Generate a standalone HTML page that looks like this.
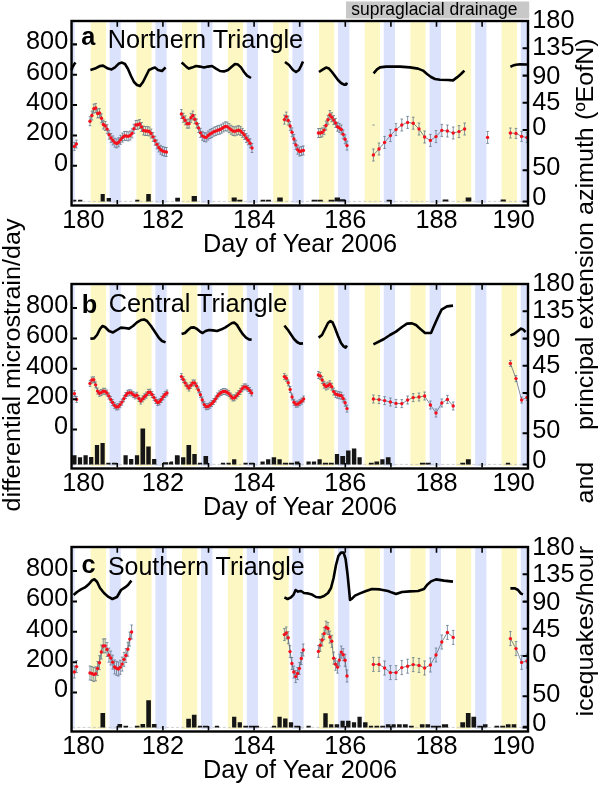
<!DOCTYPE html>
<html lang="en"><head><meta charset="utf-8"><title>Strain figure</title>
<style>html,body{margin:0;padding:0;background:#fff}body{width:600px;height:785px;overflow:hidden}svg{display:block;will-change:transform}</style></head>
<body>
<svg width="600" height="785" viewBox="0 0 600 785" font-family="Liberation Sans, sans-serif" font-size="25.3" fill="#000">
<rect width="600" height="785" fill="#fff"/>
<rect x="346" y="1.5" width="183.2" height="17" fill="#c8c8c8"/>
<text transform="translate(434.4 15) scale(1 1.03)" text-anchor="middle" font-size="17.5" fill="#000">supraglacial drainage</text>
<g>
<clipPath id="cp0"><rect x="72" y="21" width="456" height="182"/></clipPath>
<g clip-path="url(#cp0)">
<rect x="90.7" y="21" width="15.3" height="182" fill="#fcf7c3"/>
<rect x="136.4" y="21" width="15.2" height="182" fill="#fcf7c3"/>
<rect x="182" y="21" width="15.2" height="182" fill="#fcf7c3"/>
<rect x="227.8" y="21" width="15.2" height="182" fill="#fcf7c3"/>
<rect x="273.2" y="21" width="15.4" height="182" fill="#fcf7c3"/>
<rect x="319" y="21" width="15.2" height="182" fill="#fcf7c3"/>
<rect x="364.6" y="21" width="15.4" height="182" fill="#fcf7c3"/>
<rect x="410.4" y="21" width="15.2" height="182" fill="#fcf7c3"/>
<rect x="456" y="21" width="15.2" height="182" fill="#fcf7c3"/>
<rect x="501.6" y="21" width="15.4" height="182" fill="#fcf7c3"/>
<rect x="64" y="21" width="10.7" height="182" fill="#dbe2fc"/>
<rect x="109.6" y="21" width="11.2" height="182" fill="#dbe2fc"/>
<rect x="155.4" y="21" width="11.2" height="182" fill="#dbe2fc"/>
<rect x="201" y="21" width="11.4" height="182" fill="#dbe2fc"/>
<rect x="246.8" y="21" width="11.2" height="182" fill="#dbe2fc"/>
<rect x="292.4" y="21" width="11.2" height="182" fill="#dbe2fc"/>
<rect x="338" y="21" width="11.4" height="182" fill="#dbe2fc"/>
<rect x="383.8" y="21" width="11.2" height="182" fill="#dbe2fc"/>
<rect x="429.6" y="21" width="11.4" height="182" fill="#dbe2fc"/>
<rect x="475.2" y="21" width="11.2" height="182" fill="#dbe2fc"/>
<rect x="520.8" y="21" width="11.2" height="182" fill="#dbe2fc"/>
<line x1="72" x2="528" y1="201.4" y2="201.4" stroke="#c4c4c4" stroke-width="0.8" stroke-dasharray="3.2 2"/>
</g>
<path d="M73.25 201.5H76.35V199.8H73.25ZM78.05 201.5H82.35V199.8H78.05ZM100.65 201.5H104.75V194H100.65ZM106.65 201.5H110.95V198H106.65ZM135.25 201.5H139.35V199.8H135.25ZM146.25 201.5H150.75V194H146.25ZM175.25 201.5H179.95V197.8H175.25ZM191.65 201.5H196.95V196H191.65ZM231.65 201.5H236.75V197.6H231.65ZM237.25 201.5H242.35V199.8H237.25ZM260.65 201.5H265.35V199.8H260.65ZM266.05 201.5H270.95V199.8H266.05ZM277.25 201.5H282.75V197.6H277.25ZM311.65 201.5H317.35V199.8H311.65ZM317.65 201.5H322.75V199.8H317.65ZM328.65 201.5H334.35V199.8H328.65ZM334.65 201.5H339.95V197.6H334.65ZM339.65 201.5H345.35V199.2H339.65ZM386.65 201.5H391.35V199.8H386.65ZM442.65 201.5H448.35V199.6H442.65ZM465.65 201.5H471.35V197.6H465.65ZM500.65 201.5H505.75V199.6H500.65Z" fill="#151515"/>
<g clip-path="url(#cp0)">
<path d="M74.4 142.4V150.4M73.1 142.4H75.7M73.1 150.4H75.7M76.4 140V148M75.1 140H77.7M75.1 148H77.7M90 116.7V125.7M88.7 116.7H91.3M88.7 125.7H91.3M91.91 111V120M90.61 111H93.21M90.61 120H93.21M93.82 104.15V113.15M92.52 104.15H95.12M92.52 113.15H95.12M95.73 103.51V112.51M94.43 103.51H97.03M94.43 112.51H97.03M97.64 108.96V117.96M96.34 108.96H98.94M96.34 117.96H98.94M99.55 108.47V117.47M98.25 108.47H100.85M98.25 117.47H100.85M101.46 113.82V122.82M100.16 113.82H102.76M100.16 122.82H102.76M103.37 120.07V129.07M102.07 120.07H104.67M102.07 129.07H104.67M105.28 121.49V130.49M103.98 121.49H106.58M103.98 130.49H106.58M107.19 124.62V133.62M105.89 124.62H108.49M105.89 133.62H108.49M109.1 130.2V139.2M107.8 130.2H110.4M107.8 139.2H110.4M111.01 133.51V142.51M109.71 133.51H112.31M109.71 142.51H112.31M112.92 135.93V144.93M111.62 135.93H114.22M111.62 144.93H114.22M114.83 138.16V147.16M113.53 138.16H116.13M113.53 147.16H116.13M116.74 138.97V147.97M115.44 138.97H118.04M115.44 147.97H118.04M118.65 137.69V146.69M117.35 137.69H119.95M117.35 146.69H119.95M120.56 135.3V144.3M119.26 135.3H121.86M119.26 144.3H121.86M122.47 133.09V142.09M121.17 133.09H123.77M121.17 142.09H123.77M124.38 131.43V140.43M123.08 131.43H125.68M123.08 140.43H125.68M126.29 131.43V140.43M124.99 131.43H127.59M124.99 140.43H127.59M128.2 131.86V140.86M126.9 131.86H129.5M126.9 140.86H129.5M130.11 131.02V140.02M128.81 131.02H131.41M128.81 140.02H131.41M132.02 128.89V137.89M130.72 128.89H133.32M130.72 137.89H133.32M133.93 124.26V133.26M132.63 124.26H135.23M132.63 133.26H135.23M135.84 120.5V129.5M134.54 120.5H137.14M134.54 129.5H137.14M137.75 120.26V129.25M136.45 120.26H139.05M136.45 129.25H139.05M139.66 119.49V128.49M138.36 119.49H140.96M138.36 128.49H140.96M141.57 122.5V131.5M140.27 122.5H142.87M140.27 131.5H142.87M143.48 126.06V135.06M142.18 126.06H144.78M142.18 135.06H144.78M145.39 126.5V135.5M144.09 126.5H146.69M144.09 135.5H146.69M147.3 126.5V135.5M146 126.5H148.6M146 135.5H148.6M149.21 126.97V135.97M147.91 126.97H150.51M147.91 135.97H150.51M151.12 129.05V138.05M149.82 129.05H152.42M149.82 138.05H152.42M153.03 132.36V141.36M151.73 132.36H154.33M151.73 141.36H154.33M154.94 136.18V145.18M153.64 136.18H156.24M153.64 145.18H156.24M156.85 139.86V148.86M155.55 139.86H158.15M155.55 148.86H158.15M158.76 142.97V151.97M157.46 142.97H160.06M157.46 151.97H160.06M160.67 145.29V154.29M159.37 145.29H161.97M159.37 154.29H161.97M162.58 146.55V155.55M161.28 146.55H163.88M161.28 155.55H163.88M164.49 147.12V156.12M163.19 147.12H165.79M163.19 156.12H165.79M166.4 147.5V156.5M165.1 147.5H167.7M165.1 156.5H167.7M181.4 109.5V118.5M180.1 109.5H182.7M180.1 118.5H182.7M183.31 113.24V122.24M182.01 113.24H184.61M182.01 122.24H184.61M185.22 115.89V124.89M183.92 115.89H186.52M183.92 124.89H186.52M187.12 119.16V128.16M185.82 119.16H188.42M185.82 128.16H188.42M189.03 119.13V128.13M187.73 119.13H190.33M187.73 128.13H190.33M190.94 113.32V122.32M189.64 113.32H192.24M189.64 122.32H192.24M192.85 110.97V119.97M191.55 110.97H194.15M191.55 119.97H194.15M194.76 114.69V123.69M193.46 114.69H196.06M193.46 123.69H196.06M196.66 118.97V127.97M195.36 118.97H197.96M195.36 127.97H197.96M198.57 123.54V132.54M197.27 123.54H199.87M197.27 132.54H199.87M200.48 128.37V137.37M199.18 128.37H201.78M199.18 137.37H201.78M202.39 131.37V140.37M201.09 131.37H203.69M201.09 140.37H203.69M204.3 132.59V141.59M203 132.59H205.6M203 141.59H205.6M206.21 132.89V141.89M204.91 132.89H207.51M204.91 141.89H207.51M208.11 131.01V140.01M206.81 131.01H209.41M206.81 140.01H209.41M210.02 129.49V138.49M208.72 129.49H211.32M208.72 138.49H211.32M211.93 128.54V137.54M210.63 128.54H213.23M210.63 137.54H213.23M213.84 127.21V136.21M212.54 127.21H215.14M212.54 136.21H215.14M215.75 126.58V135.58M214.45 126.58H217.05M214.45 135.58H217.05M217.65 125.67V134.67M216.35 125.67H218.95M216.35 134.67H218.95M219.56 125.19V134.19M218.26 125.19H220.86M218.26 134.19H220.86M221.47 124.22V133.22M220.17 124.22H222.77M220.17 133.22H222.77M223.38 122.94V131.94M222.08 122.94H224.68M222.08 131.94H224.68M225.29 121.86V130.86M223.99 121.86H226.59M223.99 130.86H226.59M227.19 122.1V131.1M225.89 122.1H228.49M225.89 131.1H228.49M229.1 123.6V132.6M227.8 123.6H230.4M227.8 132.6H230.4M231.01 125.21V134.21M229.71 125.21H232.31M229.71 134.21H232.31M232.92 126.45V135.45M231.62 126.45H234.22M231.62 135.45H234.22M234.83 126.85V135.85M233.53 126.85H236.13M233.53 135.85H236.13M236.74 126.13V135.13M235.44 126.13H238.04M235.44 135.13H238.04M238.64 125.63V134.63M237.34 125.63H239.94M237.34 134.63H239.94M240.55 126.45V135.45M239.25 126.45H241.85M239.25 135.45H241.85M242.46 128.36V137.36M241.16 128.36H243.76M241.16 137.36H243.76M244.37 130.49V139.49M243.07 130.49H245.67M243.07 139.49H245.67M246.28 133.43V142.43M244.98 133.43H247.58M244.98 142.43H247.58M248.18 135.78V144.78M246.88 135.78H249.48M246.88 144.78H249.48M250.09 138.73V147.73M248.79 138.73H251.39M248.79 147.73H251.39M252 143.5V152.5M250.7 143.5H253.3M250.7 152.5H253.3M284.4 115.1V124.1M283.1 115.1H285.7M283.1 124.1H285.7M286.3 112.1V121.1M285 112.1H287.6M285 121.1H287.6M288.2 116.06V125.06M286.9 116.06H289.5M286.9 125.06H289.5M290.1 121.43V130.43M288.8 121.43H291.4M288.8 130.43H291.4M292 127.81V136.81M290.7 127.81H293.3M290.7 136.81H293.3M293.9 134.46V143.46M292.6 134.46H295.2M292.6 143.46H295.2M295.8 140.42V149.42M294.5 140.42H297.1M294.5 149.42H297.1M297.7 145.21V154.21M296.4 145.21H299M296.4 154.21H299M299.6 147.04V156.04M298.3 147.04H300.9M298.3 156.04H300.9M301.5 146.47V155.47M300.2 146.47H302.8M300.2 155.47H302.8M303.4 145.9V154.9M302.1 145.9H304.7M302.1 154.9H304.7M318.4 128.5V137.5M317.1 128.5H319.7M317.1 137.5H319.7M320.31 128.5V137.5M319.01 128.5H321.61M319.01 137.5H321.61M322.21 127.88V136.88M320.91 127.88H323.51M320.91 136.88H323.51M324.12 125.6V134.6M322.82 125.6H325.42M322.82 134.6H325.42M326.03 121.02V130.02M324.73 121.02H327.33M324.73 130.02H327.33M327.93 115.3V124.3M326.63 115.3H329.23M326.63 124.3H329.23M329.84 110.54V119.54M328.54 110.54H331.14M328.54 119.54H331.14M331.75 112.72V121.72M330.45 112.72H333.05M330.45 121.72H333.05M333.65 115.58V124.58M332.35 115.58H334.95M332.35 124.58H334.95M335.56 118.44V127.44M334.26 118.44H336.86M334.26 127.44H336.86M337.47 122.23V131.23M336.17 122.23H338.77M336.17 131.23H338.77M339.37 123.39V132.39M338.07 123.39H340.67M338.07 132.39H340.67M341.28 124.99V133.99M339.98 124.99H342.58M339.98 133.99H342.58M343.19 129.86V138.86M341.89 129.86H344.49M341.89 138.86H344.49M345.09 134.81V143.81M343.79 134.81H346.39M343.79 143.81H346.39M347 141.1V150.1M345.7 141.1H348.3M345.7 150.1H348.3M373.4 149V161M372.1 149H374.7M372.1 161H374.7M379 143V155M377.7 143H380.3M377.7 155H380.3M384.6 136.4V148.4M383.3 136.4H385.9M383.3 148.4H385.9M390.4 129.6V141.6M389.1 129.6H391.7M389.1 141.6H391.7M396 123.6V135.6M394.7 123.6H397.3M394.7 135.6H397.3M401.8 119V131M400.5 119H403.1M400.5 131H403.1M407.6 116.4V128.4M406.3 116.4H408.9M406.3 128.4H408.9M413.2 117.2V129.2M411.9 117.2H414.5M411.9 129.2H414.5M419 123V135M417.7 123H420.3M417.7 135H420.3M424.6 131V143M423.3 131H425.9M423.3 143H425.9M430.4 134.4V146.4M429.1 134.4H431.7M429.1 146.4H431.7M436 130.6V142.6M434.7 130.6H437.3M434.7 142.6H437.3M441.8 124.4V136.4M440.5 124.4H443.1M440.5 136.4H443.1M447.4 125V137M446.1 125H448.7M446.1 137H448.7M453.2 127V139M451.9 127H454.5M451.9 139H454.5M459 125.6V137.6M457.7 125.6H460.3M457.7 137.6H460.3M464.6 123V135M463.3 123H465.9M463.3 135H465.9M487.6 131.4V143.4M486.3 131.4H488.9M486.3 143.4H488.9M510.4 128V138M509.1 128H511.7M509.1 138H511.7M516 128.4V138.4M514.7 128.4H517.3M514.7 138.4H517.3M521.6 131.4V141.4M520.3 131.4H522.9M520.3 141.4H522.9M527 132.6V142.6M525.7 132.6H528.3M525.7 142.6H528.3M372.4 125h2.2" fill="none" stroke="#66788a" stroke-width="0.8"/>
<path d="M74.4 146.4 L76.4 144M90 121.2 L91.91 115.5 L93.82 108.65 L95.73 108.01 L97.64 113.46 L99.55 112.97 L101.46 118.32 L103.37 124.57 L105.28 125.99 L107.19 129.12 L109.1 134.7 L111.01 138.01 L112.92 140.43 L114.83 142.66 L116.74 143.47 L118.65 142.19 L120.56 139.8 L122.47 137.59 L124.38 135.93 L126.29 135.93 L128.2 136.36 L130.11 135.52 L132.02 133.39 L133.93 128.76 L135.84 125 L137.75 124.76 L139.66 123.99 L141.57 127 L143.48 130.56 L145.39 131 L147.3 131 L149.21 131.47 L151.12 133.55 L153.03 136.86 L154.94 140.68 L156.85 144.36 L158.76 147.47 L160.67 149.79 L162.58 151.05 L164.49 151.62 L166.4 152M181.4 114 L183.31 117.74 L185.22 120.39 L187.12 123.66 L189.03 123.63 L190.94 117.82 L192.85 115.47 L194.76 119.19 L196.66 123.47 L198.57 128.04 L200.48 132.87 L202.39 135.87 L204.3 137.09 L206.21 137.39 L208.11 135.51 L210.02 133.99 L211.93 133.04 L213.84 131.71 L215.75 131.08 L217.65 130.17 L219.56 129.69 L221.47 128.72 L223.38 127.44 L225.29 126.36 L227.19 126.6 L229.1 128.1 L231.01 129.71 L232.92 130.95 L234.83 131.35 L236.74 130.63 L238.64 130.13 L240.55 130.95 L242.46 132.86 L244.37 134.99 L246.28 137.93 L248.18 140.28 L250.09 143.23 L252 148M284.4 119.6 L286.3 116.6 L288.2 120.56 L290.1 125.93 L292 132.31 L293.9 138.96 L295.8 144.92 L297.7 149.71 L299.6 151.54 L301.5 150.97 L303.4 150.4M318.4 133 L320.31 133 L322.21 132.38 L324.12 130.1 L326.03 125.52 L327.93 119.8 L329.84 115.04 L331.75 117.22 L333.65 120.08 L335.56 122.94 L337.47 126.73 L339.37 127.89 L341.28 129.49 L343.19 134.36 L345.09 139.31 L347 145.6M373.4 155 L379 149 L384.6 142.4 L390.4 135.6 L396 129.6 L401.8 125 L407.6 122.4 L413.2 123.2 L419 129 L424.6 137 L430.4 140.4 L436 136.6 L441.8 130.4 L447.4 131 L453.2 133 L459 131.6 L464.6 129M510.4 133 L516 133.4 L521.6 136.4 L527 137.6" fill="none" stroke="#4a5a70" stroke-width="0.7"/>
<g fill="#f5101c"><circle cx="74.4" cy="146.4" r="1.7"/><circle cx="76.4" cy="144" r="1.7"/><circle cx="90" cy="121.2" r="1.7"/><circle cx="91.91" cy="115.5" r="1.7"/><circle cx="93.82" cy="108.65" r="1.7"/><circle cx="95.73" cy="108.01" r="1.7"/><circle cx="97.64" cy="113.46" r="1.7"/><circle cx="99.55" cy="112.97" r="1.7"/><circle cx="101.46" cy="118.32" r="1.7"/><circle cx="103.37" cy="124.57" r="1.7"/><circle cx="105.28" cy="125.99" r="1.7"/><circle cx="107.19" cy="129.12" r="1.7"/><circle cx="109.1" cy="134.7" r="1.7"/><circle cx="111.01" cy="138.01" r="1.7"/><circle cx="112.92" cy="140.43" r="1.7"/><circle cx="114.83" cy="142.66" r="1.7"/><circle cx="116.74" cy="143.47" r="1.7"/><circle cx="118.65" cy="142.19" r="1.7"/><circle cx="120.56" cy="139.8" r="1.7"/><circle cx="122.47" cy="137.59" r="1.7"/><circle cx="124.38" cy="135.93" r="1.7"/><circle cx="126.29" cy="135.93" r="1.7"/><circle cx="128.2" cy="136.36" r="1.7"/><circle cx="130.11" cy="135.52" r="1.7"/><circle cx="132.02" cy="133.39" r="1.7"/><circle cx="133.93" cy="128.76" r="1.7"/><circle cx="135.84" cy="125" r="1.7"/><circle cx="137.75" cy="124.76" r="1.7"/><circle cx="139.66" cy="123.99" r="1.7"/><circle cx="141.57" cy="127" r="1.7"/><circle cx="143.48" cy="130.56" r="1.7"/><circle cx="145.39" cy="131" r="1.7"/><circle cx="147.3" cy="131" r="1.7"/><circle cx="149.21" cy="131.47" r="1.7"/><circle cx="151.12" cy="133.55" r="1.7"/><circle cx="153.03" cy="136.86" r="1.7"/><circle cx="154.94" cy="140.68" r="1.7"/><circle cx="156.85" cy="144.36" r="1.7"/><circle cx="158.76" cy="147.47" r="1.7"/><circle cx="160.67" cy="149.79" r="1.7"/><circle cx="162.58" cy="151.05" r="1.7"/><circle cx="164.49" cy="151.62" r="1.7"/><circle cx="166.4" cy="152" r="1.7"/><circle cx="181.4" cy="114" r="1.7"/><circle cx="183.31" cy="117.74" r="1.7"/><circle cx="185.22" cy="120.39" r="1.7"/><circle cx="187.12" cy="123.66" r="1.7"/><circle cx="189.03" cy="123.63" r="1.7"/><circle cx="190.94" cy="117.82" r="1.7"/><circle cx="192.85" cy="115.47" r="1.7"/><circle cx="194.76" cy="119.19" r="1.7"/><circle cx="196.66" cy="123.47" r="1.7"/><circle cx="198.57" cy="128.04" r="1.7"/><circle cx="200.48" cy="132.87" r="1.7"/><circle cx="202.39" cy="135.87" r="1.7"/><circle cx="204.3" cy="137.09" r="1.7"/><circle cx="206.21" cy="137.39" r="1.7"/><circle cx="208.11" cy="135.51" r="1.7"/><circle cx="210.02" cy="133.99" r="1.7"/><circle cx="211.93" cy="133.04" r="1.7"/><circle cx="213.84" cy="131.71" r="1.7"/><circle cx="215.75" cy="131.08" r="1.7"/><circle cx="217.65" cy="130.17" r="1.7"/><circle cx="219.56" cy="129.69" r="1.7"/><circle cx="221.47" cy="128.72" r="1.7"/><circle cx="223.38" cy="127.44" r="1.7"/><circle cx="225.29" cy="126.36" r="1.7"/><circle cx="227.19" cy="126.6" r="1.7"/><circle cx="229.1" cy="128.1" r="1.7"/><circle cx="231.01" cy="129.71" r="1.7"/><circle cx="232.92" cy="130.95" r="1.7"/><circle cx="234.83" cy="131.35" r="1.7"/><circle cx="236.74" cy="130.63" r="1.7"/><circle cx="238.64" cy="130.13" r="1.7"/><circle cx="240.55" cy="130.95" r="1.7"/><circle cx="242.46" cy="132.86" r="1.7"/><circle cx="244.37" cy="134.99" r="1.7"/><circle cx="246.28" cy="137.93" r="1.7"/><circle cx="248.18" cy="140.28" r="1.7"/><circle cx="250.09" cy="143.23" r="1.7"/><circle cx="252" cy="148" r="1.7"/><circle cx="284.4" cy="119.6" r="1.7"/><circle cx="286.3" cy="116.6" r="1.7"/><circle cx="288.2" cy="120.56" r="1.7"/><circle cx="290.1" cy="125.93" r="1.7"/><circle cx="292" cy="132.31" r="1.7"/><circle cx="293.9" cy="138.96" r="1.7"/><circle cx="295.8" cy="144.92" r="1.7"/><circle cx="297.7" cy="149.71" r="1.7"/><circle cx="299.6" cy="151.54" r="1.7"/><circle cx="301.5" cy="150.97" r="1.7"/><circle cx="303.4" cy="150.4" r="1.7"/><circle cx="318.4" cy="133" r="1.7"/><circle cx="320.31" cy="133" r="1.7"/><circle cx="322.21" cy="132.38" r="1.7"/><circle cx="324.12" cy="130.1" r="1.7"/><circle cx="326.03" cy="125.52" r="1.7"/><circle cx="327.93" cy="119.8" r="1.7"/><circle cx="329.84" cy="115.04" r="1.7"/><circle cx="331.75" cy="117.22" r="1.7"/><circle cx="333.65" cy="120.08" r="1.7"/><circle cx="335.56" cy="122.94" r="1.7"/><circle cx="337.47" cy="126.73" r="1.7"/><circle cx="339.37" cy="127.89" r="1.7"/><circle cx="341.28" cy="129.49" r="1.7"/><circle cx="343.19" cy="134.36" r="1.7"/><circle cx="345.09" cy="139.31" r="1.7"/><circle cx="347" cy="145.6" r="1.7"/><circle cx="373.4" cy="155" r="1.7"/><circle cx="379" cy="149" r="1.7"/><circle cx="384.6" cy="142.4" r="1.7"/><circle cx="390.4" cy="135.6" r="1.7"/><circle cx="396" cy="129.6" r="1.7"/><circle cx="401.8" cy="125" r="1.7"/><circle cx="407.6" cy="122.4" r="1.7"/><circle cx="413.2" cy="123.2" r="1.7"/><circle cx="419" cy="129" r="1.7"/><circle cx="424.6" cy="137" r="1.7"/><circle cx="430.4" cy="140.4" r="1.7"/><circle cx="436" cy="136.6" r="1.7"/><circle cx="441.8" cy="130.4" r="1.7"/><circle cx="447.4" cy="131" r="1.7"/><circle cx="453.2" cy="133" r="1.7"/><circle cx="459" cy="131.6" r="1.7"/><circle cx="464.6" cy="129" r="1.7"/><circle cx="487.6" cy="137.4" r="1.7"/><circle cx="510.4" cy="133" r="1.7"/><circle cx="516" cy="133.4" r="1.7"/><circle cx="521.6" cy="136.4" r="1.7"/><circle cx="527" cy="137.6" r="1.7"/></g>
</g>
<path d="M71.5 70 L72.5 67 L74 64.5 L75.5 62.5M90.4 70 L95 68.6 L100 66 L103 65.6 L108 68.6 L111.6 69.4 L115 67.4 L119 63.4 L122 62.6 L125 64 L128 69 L131 76 L134 82 L137 85 L140 86 L143 82 L146 76 L149 70 L152 68.6 L155 67.6 L158 70 L162 71 L165.6 67.4M181.6 62.6 L184 64.6 L187 67.4 L189 68.6 L192 67.6 L196 66 L200 66.6 L204 67.4 L208 66.6 L212 66 L216 68.6 L220 71 L224 71.4 L228 70 L232 66.6 L235 64 L238 64.6 L241 67.4 L244 72 L247 75.6 L251 78M285 62 L289 65 L293 70 L296 72 L299 70 L301 66 L303 61.4M319 72 L323 69.4 L326 67.6 L329 68.6 L332 72 L335 76 L338 80 L341 83 L344 84.6 L346 84.6 L347 82.6M373.6 73.4 L377 69.4 L380 67.4 L386 66.6 L400 66.6 L410 67.4 L418 68.6 L423 70.6 L427 74 L431 77 L435 79 L440 79.8 L448 80 L453 80.4 L457 77.4 L461 74 L464.4 70.6M510.4 66.7 L513 65.6 L516 64.7 L520 64.3 L527 64.5" fill="none" stroke="#000" stroke-width="2.6" stroke-linejoin="round" stroke-linecap="butt"/>
<rect x="71.55" y="21" width="456.45" height="184.5" fill="none" stroke="#000" stroke-width="2.4"/>
<path d="M117.3 22.1v4.7M117.3 204.4v-4.4M162.9 22.1v4.7M162.9 204.4v-4.4M208.5 22.1v4.7M208.5 204.4v-4.4M254.1 22.1v4.7M254.1 204.4v-4.4M299.7 22.1v4.7M299.7 204.4v-4.4M345.3 22.1v4.7M345.3 204.4v-4.4M390.9 22.1v4.7M390.9 204.4v-4.4M436.5 22.1v4.7M436.5 204.4v-4.4M482.1 22.1v4.7M482.1 204.4v-4.4" stroke="#000" stroke-width="1.6" fill="none"/>
<path d="M72.6 44.35h4.4M72.6 74.72h4.4M72.6 105.09h4.4M72.6 135.46h4.4M72.6 165.83h4.4M527 48.3h-4.4M527 75.6h-4.4M527 102.8h-4.4M527 130h-4.4M527 170.3h-4.4M527 201.5h-4.4" stroke="#000" stroke-width="2.05" fill="none"/>
<text transform="translate(68.2 49.2) scale(1 1.04)" text-anchor="end">800</text>
<text transform="translate(68.2 79.57) scale(1 1.04)" text-anchor="end">600</text>
<text transform="translate(68.2 109.94) scale(1 1.04)" text-anchor="end">400</text>
<text transform="translate(68.2 140.31) scale(1 1.04)" text-anchor="end">200</text>
<text transform="translate(68.2 170.68) scale(1 1.04)" text-anchor="end">0</text>
<text transform="translate(532.3 28.3) scale(1 1.04)">180</text>
<text transform="translate(532.3 54.8) scale(1 1.04)">135</text>
<text transform="translate(532.3 84) scale(1 1.04)">90</text>
<text transform="translate(532.3 110.4) scale(1 1.04)">45</text>
<text transform="translate(532.3 135.4) scale(1 1.04)">0</text>
<text transform="translate(532.3 175.3) scale(1 1.04)">50</text>
<text transform="translate(532.3 205.2) scale(1 1.04)">0</text>
<text transform="translate(83.4 228.4) scale(1 1.04)" text-anchor="middle">180</text>
<text transform="translate(162.9 228.4) scale(1 1.04)" text-anchor="middle">182</text>
<text transform="translate(254.1 228.4) scale(1 1.04)" text-anchor="middle">184</text>
<text transform="translate(345.3 228.4) scale(1 1.04)" text-anchor="middle">186</text>
<text transform="translate(436.5 228.4) scale(1 1.04)" text-anchor="middle">188</text>
<text transform="translate(513.6 228.4) scale(1 1.04)" text-anchor="middle">190</text>
<text transform="translate(203 252.3) scale(1 1.04)">Day of Year 2006</text>
<text transform="translate(81.3 44.6) scale(1 1.04)" font-weight="bold">a</text>
<text transform="translate(107.8 47.8) scale(1 1.04)">Northern Triangle</text>
</g>
<g>
<clipPath id="cp1"><rect x="72" y="284" width="456" height="182"/></clipPath>
<g clip-path="url(#cp1)">
<rect x="90.7" y="284" width="15.3" height="182" fill="#fcf7c3"/>
<rect x="136.4" y="284" width="15.2" height="182" fill="#fcf7c3"/>
<rect x="182" y="284" width="15.2" height="182" fill="#fcf7c3"/>
<rect x="227.8" y="284" width="15.2" height="182" fill="#fcf7c3"/>
<rect x="273.2" y="284" width="15.4" height="182" fill="#fcf7c3"/>
<rect x="319" y="284" width="15.2" height="182" fill="#fcf7c3"/>
<rect x="364.6" y="284" width="15.4" height="182" fill="#fcf7c3"/>
<rect x="410.4" y="284" width="15.2" height="182" fill="#fcf7c3"/>
<rect x="456" y="284" width="15.2" height="182" fill="#fcf7c3"/>
<rect x="501.6" y="284" width="15.4" height="182" fill="#fcf7c3"/>
<rect x="64" y="284" width="10.7" height="182" fill="#dbe2fc"/>
<rect x="109.6" y="284" width="11.2" height="182" fill="#dbe2fc"/>
<rect x="155.4" y="284" width="11.2" height="182" fill="#dbe2fc"/>
<rect x="201" y="284" width="11.4" height="182" fill="#dbe2fc"/>
<rect x="246.8" y="284" width="11.2" height="182" fill="#dbe2fc"/>
<rect x="292.4" y="284" width="11.2" height="182" fill="#dbe2fc"/>
<rect x="338" y="284" width="11.4" height="182" fill="#dbe2fc"/>
<rect x="383.8" y="284" width="11.2" height="182" fill="#dbe2fc"/>
<rect x="429.6" y="284" width="11.4" height="182" fill="#dbe2fc"/>
<rect x="475.2" y="284" width="11.2" height="182" fill="#dbe2fc"/>
<rect x="520.8" y="284" width="11.2" height="182" fill="#dbe2fc"/>
<line x1="72" x2="528" y1="464.4" y2="464.4" stroke="#c4c4c4" stroke-width="0.8" stroke-dasharray="3.2 2"/>
</g>
<path d="M72.28 464.5H76.52V455.3H72.28ZM77.88 464.5H82.12V457.3H77.88ZM83.48 464.5H87.72V455.3H83.48ZM89.08 464.5H93.32V456.9H89.08ZM94.88 464.5H99.12V444.9H94.88ZM100.48 464.5H104.72V442.9H100.48ZM106.28 464.5H110.52V462.8H106.28ZM111.88 464.5H117.12V462.8H111.88ZM123.48 464.5H127.72V455.3H123.48ZM129.08 464.5H133.32V458.9H129.08ZM134.88 464.5H139.12V455.3H134.88ZM140.48 464.5H145.12V428.5H140.48ZM146.28 464.5H150.72V446.5H146.28ZM152.08 464.5H156.32V458.9H152.08ZM162.88 464.5H168.12V462.3H162.88ZM168.88 464.5H173.12V462.3H168.88ZM174.88 464.5H179.52V455.3H174.88ZM169.88 464.5H173.12V461.5H169.88ZM175.48 464.5H179.72V455.9H175.48ZM181.08 464.5H185.32V457.3H181.08ZM186.48 464.5H191.12V444.9H186.48ZM192.28 464.5H196.72V453.9H192.28ZM197.88 464.5H202.12V462.8H197.88ZM203.48 464.5H208.12V455.9H203.48ZM220.88 464.5H225.12V462.8H220.88ZM226.48 464.5H230.72V462.8H226.48ZM232.08 464.5H236.32V459.3H232.08ZM243.48 464.5H247.72V462.8H243.48ZM248.88 464.5H254.12V462.8H248.88ZM260.48 464.5H264.72V461.5H260.48ZM266.08 464.5H270.32V459.3H266.08ZM271.68 464.5H276.12V457.3H271.68ZM277.48 464.5H281.72V459.3H277.48ZM282.88 464.5H288.12V462.8H282.88ZM288.88 464.5H294.12V462.8H288.88ZM294.88 464.5H299.52V461.5H294.88ZM306.48 464.5H310.72V461.5H306.48ZM311.88 464.5H316.12V461.5H311.88ZM317.48 464.5H321.72V459.3H317.48ZM322.88 464.5H328.12V462.8H322.88ZM328.88 464.5H333.72V462.8H328.88ZM334.88 464.5H339.12V453.9H334.88ZM340.28 464.5H345.12V455.9H340.28ZM346.08 464.5H350.52V450.5H346.08ZM351.88 464.5H356.32V448.5H351.88ZM357.48 464.5H361.72V457.3H357.48ZM368.88 464.5H373.72V462.8H368.88ZM374.48 464.5H379.12V461.5H374.48ZM380.28 464.5H384.52V459.3H380.28ZM385.88 464.5H390.52V457.3H385.88ZM419.88 464.5H425.12V462.8H419.88ZM425.48 464.5H430.72V462.8H425.48ZM460.28 464.5H465.12V462.8H460.28ZM465.88 464.5H470.72V459.3H465.88ZM505.88 464.5H510.12V462.8H505.88Z" fill="#151515"/>
<g clip-path="url(#cp1)">
<path d="M74.4 390.6V396.6M73.1 390.6H75.7M73.1 396.6H75.7M76.6 396.4V402.4M75.3 396.4H77.9M75.3 402.4H77.9M90 380.4V386.4M88.7 380.4H91.3M88.7 386.4H91.3M91.88 376.97V382.97M90.58 376.97H93.18M90.58 382.97H93.18M93.76 376.8V382.8M92.46 376.8H95.06M92.46 382.8H95.06M95.63 381.86V387.86M94.33 381.86H96.93M94.33 387.86H96.93M97.51 388.09V394.09M96.21 388.09H98.81M96.21 394.09H98.81M99.39 390.31V396.31M98.09 390.31H100.69M98.09 396.31H100.69M101.27 389.58V395.58M99.97 389.58H102.57M99.97 395.58H102.57M103.15 388.28V394.28M101.85 388.28H104.45M101.85 394.28H104.45M105.02 388.35V394.35M103.72 388.35H106.32M103.72 394.35H106.32M106.9 390.01V396.01M105.6 390.01H108.2M105.6 396.01H108.2M108.78 393.07V399.07M107.48 393.07H110.08M107.48 399.07H110.08M110.66 396.43V402.43M109.36 396.43H111.96M109.36 402.43H111.96M112.54 399.56V405.56M111.24 399.56H113.84M111.24 405.56H113.84M114.41 402.35V408.35M113.11 402.35H115.71M113.11 408.35H115.71M116.29 404.01V410.01M114.99 404.01H117.59M114.99 410.01H117.59M118.17 403.75V409.75M116.87 403.75H119.47M116.87 409.75H119.47M120.05 401.73V407.73M118.75 401.73H121.35M118.75 407.73H121.35M121.93 399.08V405.08M120.63 399.08H123.23M120.63 405.08H123.23M123.8 395.75V401.75M122.5 395.75H125.1M122.5 401.75H125.1M125.68 392.53V398.53M124.38 392.53H126.98M124.38 398.53H126.98M127.56 390.27V396.27M126.26 390.27H128.86M126.26 396.27H128.86M129.44 389.64V395.64M128.14 389.64H130.74M128.14 395.64H130.74M131.32 389.98V395.98M130.02 389.98H132.62M130.02 395.98H132.62M133.2 391.6V397.6M131.9 391.6H134.5M131.9 397.6H134.5M135.07 392.96V398.96M133.77 392.96H136.37M133.77 398.96H136.37M136.95 392.25V398.25M135.65 392.25H138.25M135.65 398.25H138.25M138.83 395.43V401.43M137.53 395.43H140.13M137.53 401.43H140.13M140.71 398.06V404.06M139.41 398.06H142.01M139.41 404.06H142.01M142.59 395.89V401.89M141.29 395.89H143.89M141.29 401.89H143.89M144.46 393.74V399.74M143.16 393.74H145.76M143.16 399.74H145.76M146.34 392.1V398.1M145.04 392.1H147.64M145.04 398.1H147.64M148.22 389.45V395.45M146.92 389.45H149.52M146.92 395.45H149.52M150.1 389.18V395.18M148.8 389.18H151.4M148.8 395.18H151.4M151.98 391.52V397.52M150.68 391.52H153.28M150.68 397.52H153.28M153.85 394.42V400.42M152.55 394.42H155.15M152.55 400.42H155.15M155.73 397.55V403.55M154.43 397.55H157.03M154.43 403.55H157.03M157.61 399.56V405.56M156.31 399.56H158.91M156.31 405.56H158.91M159.49 398.79V404.79M158.19 398.79H160.79M158.19 404.79H160.79M161.37 396.45V402.45M160.07 396.45H162.67M160.07 402.45H162.67M163.24 393.8V399.8M161.94 393.8H164.54M161.94 399.8H164.54M165.12 391.53V397.53M163.82 391.53H166.42M163.82 397.53H166.42M167 390V396M165.7 390H168.3M165.7 396H168.3M181.4 373.6V379.6M180.1 373.6H182.7M180.1 379.6H182.7M183.3 376.57V382.57M182 376.57H184.6M182 382.57H184.6M185.19 379.9V385.9M183.89 379.9H186.49M183.89 385.9H186.49M187.09 382.92V388.92M185.79 382.92H188.39M185.79 388.92H188.39M188.99 385.04V391.04M187.69 385.04H190.29M187.69 391.04H190.29M190.89 382.3V388.3M189.59 382.3H192.19M189.59 388.3H192.19M192.78 379.95V385.95M191.48 379.95H194.08M191.48 385.95H194.08M194.68 379.98V385.98M193.38 379.98H195.98M193.38 385.98H195.98M196.58 383.07V389.07M195.28 383.07H197.88M195.28 389.07H197.88M198.48 386.95V392.95M197.18 386.95H199.78M197.18 392.95H199.78M200.37 391.7V397.7M199.07 391.7H201.67M199.07 397.7H201.67M202.27 396.97V402.97M200.97 396.97H203.57M200.97 402.97H203.57M204.17 401.59V407.59M202.87 401.59H205.47M202.87 407.59H205.47M206.06 403.7V409.7M204.76 403.7H207.36M204.76 409.7H207.36M207.96 403.55V409.55M206.66 403.55H209.26M206.66 409.55H209.26M209.86 402.26V408.26M208.56 402.26H211.16M208.56 408.26H211.16M211.76 400.62V406.62M210.46 400.62H213.06M210.46 406.62H213.06M213.65 398.56V404.56M212.35 398.56H214.95M212.35 404.56H214.95M215.55 396.06V402.06M214.25 396.06H216.85M214.25 402.06H216.85M217.45 392.95V398.95M216.15 392.95H218.75M216.15 398.95H218.75M219.35 390.89V396.89M218.05 390.89H220.65M218.05 396.89H220.65M221.24 389.46V395.46M219.94 389.46H222.54M219.94 395.46H222.54M223.14 388.56V394.56M221.84 388.56H224.44M221.84 394.56H224.44M225.04 388.55V394.55M223.74 388.55H226.34M223.74 394.55H226.34M226.94 389.3V395.3M225.64 389.3H228.24M225.64 395.3H228.24M228.83 390.7V396.7M227.53 390.7H230.13M227.53 396.7H230.13M230.73 392.97V398.97M229.43 392.97H232.03M229.43 398.97H232.03M232.63 394.95V400.95M231.33 394.95H233.93M231.33 400.95H233.93M234.52 394.78V400.78M233.22 394.78H235.82M233.22 400.78H235.82M236.42 392.86V398.86M235.12 392.86H237.72M235.12 398.86H237.72M238.32 390.76V396.76M237.02 390.76H239.62M237.02 396.76H239.62M240.22 388.38V394.38M238.92 388.38H241.52M238.92 394.38H241.52M242.11 385.7V391.7M240.81 385.7H243.41M240.81 391.7H243.41M244.01 383.9V389.9M242.71 383.9H245.31M242.71 389.9H245.31M245.91 383.94V389.94M244.61 383.94H247.21M244.61 389.94H247.21M247.81 385.43V391.43M246.51 385.43H249.11M246.51 391.43H249.11M249.7 387.49V393.49M248.4 387.49H251M248.4 393.49H251M251.6 390V396M250.3 390H252.9M250.3 396H252.9M284.4 373.6V379.6M283.1 373.6H285.7M283.1 379.6H285.7M286.32 375.27V381.27M285.02 375.27H287.62M285.02 381.27H287.62M288.24 379.8V385.8M286.94 379.8H289.54M286.94 385.8H289.54M290.16 386.48V392.48M288.86 386.48H291.46M288.86 392.48H291.46M292.08 394V400M290.78 394H293.38M290.78 400H293.38M294 399.27V405.27M292.7 399.27H295.3M292.7 405.27H295.3M295.92 401.24V407.24M294.62 401.24H297.22M294.62 407.24H297.22M297.84 401.04V407.04M296.54 401.04H299.14M296.54 407.04H299.14M299.76 399.65V405.65M298.46 399.65H301.06M298.46 405.65H301.06M301.68 398.16V404.16M300.38 398.16H302.98M300.38 404.16H302.98M303.6 396V402M302.3 396H304.9M302.3 402H304.9M318.4 371.5V378.5M317.1 371.5H319.7M317.1 378.5H319.7M320.31 372.45V379.45M319.01 372.45H321.61M319.01 379.45H321.61M322.21 376.53V383.53M320.91 376.53H323.51M320.91 383.53H323.51M324.12 381.23V388.23M322.82 381.23H325.42M322.82 388.23H325.42M326.03 383.02V390.02M324.73 383.02H327.33M324.73 390.02H327.33M327.93 382.13V389.13M326.63 382.13H329.23M326.63 389.13H329.23M329.84 380.74V387.74M328.54 380.74H331.14M328.54 387.74H331.14M331.75 383.2V390.2M330.45 383.2H333.05M330.45 390.2H333.05M333.65 388.12V395.12M332.35 388.12H334.95M332.35 395.12H334.95M335.56 390.41V397.41M334.26 390.41H336.86M334.26 397.41H336.86M337.47 391.29V398.29M336.17 391.29H338.77M336.17 398.29H338.77M339.37 391.72V398.72M338.07 391.72H340.67M338.07 398.72H340.67M341.28 392.26V399.26M339.98 392.26H342.58M339.98 399.26H342.58M343.19 395.02V402.02M341.89 395.02H344.49M341.89 402.02H344.49M345.09 399.22V406.22M343.79 399.22H346.39M343.79 406.22H346.39M347 405.1V412.1M345.7 405.1H348.3M345.7 412.1H348.3M373.4 395V403M372.1 395H374.7M372.1 403H374.7M379 395.6V403.6M377.7 395.6H380.3M377.7 403.6H380.3M384.6 396.6V404.6M383.3 396.6H385.9M383.3 404.6H385.9M390.4 398V406M389.1 398H391.7M389.1 406H391.7M396 399.4V407.4M394.7 399.4H397.3M394.7 407.4H397.3M401.8 399.6V407.6M400.5 399.6H403.1M400.5 407.6H403.1M407.6 396V404M406.3 396H408.9M406.3 404H408.9M413.2 393.6V401.6M411.9 393.6H414.5M411.9 401.6H414.5M419 393V401M417.7 393H420.3M417.7 401H420.3M424.6 392V400M423.3 392H425.9M423.3 400H425.9M430.4 401V409M429.1 401H431.7M429.1 409H431.7M436 409V417M434.7 409H437.3M434.7 417H437.3M441.8 399V407M440.5 399H443.1M440.5 407H443.1M447.4 395.4V403.4M446.1 395.4H448.7M446.1 403.4H448.7M453.2 402V410M451.9 402H454.5M451.9 410H454.5M510.4 360.4V366.4M509.1 360.4H511.7M509.1 366.4H511.7M516 375.6V381.6M514.7 375.6H517.3M514.7 381.6H517.3M521.6 397V403M520.3 397H522.9M520.3 403H522.9M527 394.4V400.4M525.7 394.4H528.3M525.7 400.4H528.3" fill="none" stroke="#66788a" stroke-width="0.8"/>
<path d="M74.4 393.6 L76.6 399.4M90 383.4 L91.88 379.97 L93.76 379.8 L95.63 384.86 L97.51 391.09 L99.39 393.31 L101.27 392.58 L103.15 391.28 L105.02 391.35 L106.9 393.01 L108.78 396.07 L110.66 399.43 L112.54 402.56 L114.41 405.35 L116.29 407.01 L118.17 406.75 L120.05 404.73 L121.93 402.08 L123.8 398.75 L125.68 395.53 L127.56 393.27 L129.44 392.64 L131.32 392.98 L133.2 394.6 L135.07 395.96 L136.95 395.25 L138.83 398.43 L140.71 401.06 L142.59 398.89 L144.46 396.74 L146.34 395.1 L148.22 392.45 L150.1 392.18 L151.98 394.52 L153.85 397.42 L155.73 400.55 L157.61 402.56 L159.49 401.79 L161.37 399.45 L163.24 396.8 L165.12 394.53 L167 393M181.4 376.6 L183.3 379.57 L185.19 382.9 L187.09 385.92 L188.99 388.04 L190.89 385.3 L192.78 382.95 L194.68 382.98 L196.58 386.07 L198.48 389.95 L200.37 394.7 L202.27 399.97 L204.17 404.59 L206.06 406.7 L207.96 406.55 L209.86 405.26 L211.76 403.62 L213.65 401.56 L215.55 399.06 L217.45 395.95 L219.35 393.89 L221.24 392.46 L223.14 391.56 L225.04 391.55 L226.94 392.3 L228.83 393.7 L230.73 395.97 L232.63 397.95 L234.52 397.78 L236.42 395.86 L238.32 393.76 L240.22 391.38 L242.11 388.7 L244.01 386.9 L245.91 386.94 L247.81 388.43 L249.7 390.49 L251.6 393M284.4 376.6 L286.32 378.27 L288.24 382.8 L290.16 389.48 L292.08 397 L294 402.27 L295.92 404.24 L297.84 404.04 L299.76 402.65 L301.68 401.16 L303.6 399M318.4 375 L320.31 375.95 L322.21 380.03 L324.12 384.73 L326.03 386.52 L327.93 385.63 L329.84 384.24 L331.75 386.7 L333.65 391.62 L335.56 393.91 L337.47 394.79 L339.37 395.22 L341.28 395.76 L343.19 398.52 L345.09 402.72 L347 408.6M373.4 399 L379 399.6 L384.6 400.6 L390.4 402 L396 403.4 L401.8 403.6 L407.6 400 L413.2 397.6 L419 397 L424.6 396 L430.4 405 L436 413 L441.8 403 L447.4 399.4 L453.2 406M510.4 363.4 L516 378.6 L521.6 400 L527 397.4" fill="none" stroke="#4a5a70" stroke-width="0.7"/>
<g fill="#f5101c"><circle cx="74.4" cy="393.6" r="1.7"/><circle cx="76.6" cy="399.4" r="1.7"/><circle cx="90" cy="383.4" r="1.7"/><circle cx="91.88" cy="379.97" r="1.7"/><circle cx="93.76" cy="379.8" r="1.7"/><circle cx="95.63" cy="384.86" r="1.7"/><circle cx="97.51" cy="391.09" r="1.7"/><circle cx="99.39" cy="393.31" r="1.7"/><circle cx="101.27" cy="392.58" r="1.7"/><circle cx="103.15" cy="391.28" r="1.7"/><circle cx="105.02" cy="391.35" r="1.7"/><circle cx="106.9" cy="393.01" r="1.7"/><circle cx="108.78" cy="396.07" r="1.7"/><circle cx="110.66" cy="399.43" r="1.7"/><circle cx="112.54" cy="402.56" r="1.7"/><circle cx="114.41" cy="405.35" r="1.7"/><circle cx="116.29" cy="407.01" r="1.7"/><circle cx="118.17" cy="406.75" r="1.7"/><circle cx="120.05" cy="404.73" r="1.7"/><circle cx="121.93" cy="402.08" r="1.7"/><circle cx="123.8" cy="398.75" r="1.7"/><circle cx="125.68" cy="395.53" r="1.7"/><circle cx="127.56" cy="393.27" r="1.7"/><circle cx="129.44" cy="392.64" r="1.7"/><circle cx="131.32" cy="392.98" r="1.7"/><circle cx="133.2" cy="394.6" r="1.7"/><circle cx="135.07" cy="395.96" r="1.7"/><circle cx="136.95" cy="395.25" r="1.7"/><circle cx="138.83" cy="398.43" r="1.7"/><circle cx="140.71" cy="401.06" r="1.7"/><circle cx="142.59" cy="398.89" r="1.7"/><circle cx="144.46" cy="396.74" r="1.7"/><circle cx="146.34" cy="395.1" r="1.7"/><circle cx="148.22" cy="392.45" r="1.7"/><circle cx="150.1" cy="392.18" r="1.7"/><circle cx="151.98" cy="394.52" r="1.7"/><circle cx="153.85" cy="397.42" r="1.7"/><circle cx="155.73" cy="400.55" r="1.7"/><circle cx="157.61" cy="402.56" r="1.7"/><circle cx="159.49" cy="401.79" r="1.7"/><circle cx="161.37" cy="399.45" r="1.7"/><circle cx="163.24" cy="396.8" r="1.7"/><circle cx="165.12" cy="394.53" r="1.7"/><circle cx="167" cy="393" r="1.7"/><circle cx="181.4" cy="376.6" r="1.7"/><circle cx="183.3" cy="379.57" r="1.7"/><circle cx="185.19" cy="382.9" r="1.7"/><circle cx="187.09" cy="385.92" r="1.7"/><circle cx="188.99" cy="388.04" r="1.7"/><circle cx="190.89" cy="385.3" r="1.7"/><circle cx="192.78" cy="382.95" r="1.7"/><circle cx="194.68" cy="382.98" r="1.7"/><circle cx="196.58" cy="386.07" r="1.7"/><circle cx="198.48" cy="389.95" r="1.7"/><circle cx="200.37" cy="394.7" r="1.7"/><circle cx="202.27" cy="399.97" r="1.7"/><circle cx="204.17" cy="404.59" r="1.7"/><circle cx="206.06" cy="406.7" r="1.7"/><circle cx="207.96" cy="406.55" r="1.7"/><circle cx="209.86" cy="405.26" r="1.7"/><circle cx="211.76" cy="403.62" r="1.7"/><circle cx="213.65" cy="401.56" r="1.7"/><circle cx="215.55" cy="399.06" r="1.7"/><circle cx="217.45" cy="395.95" r="1.7"/><circle cx="219.35" cy="393.89" r="1.7"/><circle cx="221.24" cy="392.46" r="1.7"/><circle cx="223.14" cy="391.56" r="1.7"/><circle cx="225.04" cy="391.55" r="1.7"/><circle cx="226.94" cy="392.3" r="1.7"/><circle cx="228.83" cy="393.7" r="1.7"/><circle cx="230.73" cy="395.97" r="1.7"/><circle cx="232.63" cy="397.95" r="1.7"/><circle cx="234.52" cy="397.78" r="1.7"/><circle cx="236.42" cy="395.86" r="1.7"/><circle cx="238.32" cy="393.76" r="1.7"/><circle cx="240.22" cy="391.38" r="1.7"/><circle cx="242.11" cy="388.7" r="1.7"/><circle cx="244.01" cy="386.9" r="1.7"/><circle cx="245.91" cy="386.94" r="1.7"/><circle cx="247.81" cy="388.43" r="1.7"/><circle cx="249.7" cy="390.49" r="1.7"/><circle cx="251.6" cy="393" r="1.7"/><circle cx="284.4" cy="376.6" r="1.7"/><circle cx="286.32" cy="378.27" r="1.7"/><circle cx="288.24" cy="382.8" r="1.7"/><circle cx="290.16" cy="389.48" r="1.7"/><circle cx="292.08" cy="397" r="1.7"/><circle cx="294" cy="402.27" r="1.7"/><circle cx="295.92" cy="404.24" r="1.7"/><circle cx="297.84" cy="404.04" r="1.7"/><circle cx="299.76" cy="402.65" r="1.7"/><circle cx="301.68" cy="401.16" r="1.7"/><circle cx="303.6" cy="399" r="1.7"/><circle cx="318.4" cy="375" r="1.7"/><circle cx="320.31" cy="375.95" r="1.7"/><circle cx="322.21" cy="380.03" r="1.7"/><circle cx="324.12" cy="384.73" r="1.7"/><circle cx="326.03" cy="386.52" r="1.7"/><circle cx="327.93" cy="385.63" r="1.7"/><circle cx="329.84" cy="384.24" r="1.7"/><circle cx="331.75" cy="386.7" r="1.7"/><circle cx="333.65" cy="391.62" r="1.7"/><circle cx="335.56" cy="393.91" r="1.7"/><circle cx="337.47" cy="394.79" r="1.7"/><circle cx="339.37" cy="395.22" r="1.7"/><circle cx="341.28" cy="395.76" r="1.7"/><circle cx="343.19" cy="398.52" r="1.7"/><circle cx="345.09" cy="402.72" r="1.7"/><circle cx="347" cy="408.6" r="1.7"/><circle cx="373.4" cy="399" r="1.7"/><circle cx="379" cy="399.6" r="1.7"/><circle cx="384.6" cy="400.6" r="1.7"/><circle cx="390.4" cy="402" r="1.7"/><circle cx="396" cy="403.4" r="1.7"/><circle cx="401.8" cy="403.6" r="1.7"/><circle cx="407.6" cy="400" r="1.7"/><circle cx="413.2" cy="397.6" r="1.7"/><circle cx="419" cy="397" r="1.7"/><circle cx="424.6" cy="396" r="1.7"/><circle cx="430.4" cy="405" r="1.7"/><circle cx="436" cy="413" r="1.7"/><circle cx="441.8" cy="403" r="1.7"/><circle cx="447.4" cy="399.4" r="1.7"/><circle cx="453.2" cy="406" r="1.7"/><circle cx="510.4" cy="363.4" r="1.7"/><circle cx="516" cy="378.6" r="1.7"/><circle cx="521.6" cy="400" r="1.7"/><circle cx="527" cy="397.4" r="1.7"/></g>
</g>
<path d="M90.4 338.6 L94 338.4 L97 335 L100 329 L102.4 326 L105 327 L109 331 L113 332.4 L117 330 L121 327.6 L125 328 L129 328.6 L133 326 L137 322.4 L141 320 L144 319.4 L147 321 L151 326 L155 332 L159 338 L162 341 L165.6 342.4M181.6 334 L185 333 L188 330 L191 327.6 L194 327.4 L197 329 L200 331.6 L202.6 333 L205.6 331 L209 330 L213 330.4 L217 331 L221 329.6 L225 327.6 L229 325 L232 323 L234.4 322.6 L237 325 L240 330 L243 334.4 L246 337.6 L249 339.4 L251.6 339.6M284.4 325.6 L288 330 L291 334.4 L294 339 L297 342 L300 343.6 L303 343.4M318.6 337.6 L322 335 L325 329 L328 323 L330.4 321 L332.6 322.4 L335 328 L338 336 L341 343 L343.6 346.4 L345.6 347.6 L347 345.6M373.4 344.4 L384 339 L390 335 L396 331.6 L402 327 L407 323.6 L412 323.4 L416 325 L421 329.6 L425 333 L431 333 L434 326 L438 317 L441.6 309.6 L447 306.4 L453 305.6M510.4 335.4 L514 334 L518 331 L521 328.6 L523 329.4 L525.6 332" fill="none" stroke="#000" stroke-width="2.6" stroke-linejoin="round" stroke-linecap="butt"/>
<rect x="71.55" y="284" width="456.45" height="184.5" fill="none" stroke="#000" stroke-width="2.4"/>
<path d="M117.3 285.1v4.7M117.3 467.4v-4.4M162.9 285.1v4.7M162.9 467.4v-4.4M208.5 285.1v4.7M208.5 467.4v-4.4M254.1 285.1v4.7M254.1 467.4v-4.4M299.7 285.1v4.7M299.7 467.4v-4.4M345.3 285.1v4.7M345.3 467.4v-4.4M390.9 285.1v4.7M390.9 467.4v-4.4M436.5 285.1v4.7M436.5 467.4v-4.4M482.1 285.1v4.7M482.1 467.4v-4.4" stroke="#000" stroke-width="1.6" fill="none"/>
<path d="M72.6 308.05h4.4M72.6 338.42h4.4M72.6 368.79h4.4M72.6 399.16h4.4M72.6 429.53h4.4M527 311.3h-4.4M527 338.6h-4.4M527 365.8h-4.4M527 393h-4.4M527 433.3h-4.4M527 464.5h-4.4" stroke="#000" stroke-width="2.05" fill="none"/>
<text transform="translate(68.2 312.9) scale(1 1.04)" text-anchor="end">800</text>
<text transform="translate(68.2 343.27) scale(1 1.04)" text-anchor="end">600</text>
<text transform="translate(68.2 373.64) scale(1 1.04)" text-anchor="end">400</text>
<text transform="translate(68.2 404.01) scale(1 1.04)" text-anchor="end">200</text>
<text transform="translate(68.2 434.38) scale(1 1.04)" text-anchor="end">0</text>
<text transform="translate(532.3 291.3) scale(1 1.04)">180</text>
<text transform="translate(532.3 317.8) scale(1 1.04)">135</text>
<text transform="translate(532.3 347) scale(1 1.04)">90</text>
<text transform="translate(532.3 373.4) scale(1 1.04)">45</text>
<text transform="translate(532.3 398.4) scale(1 1.04)">0</text>
<text transform="translate(532.3 438.3) scale(1 1.04)">50</text>
<text transform="translate(532.3 468.2) scale(1 1.04)">0</text>
<text transform="translate(83.4 491.4) scale(1 1.04)" text-anchor="middle">180</text>
<text transform="translate(162.9 491.4) scale(1 1.04)" text-anchor="middle">182</text>
<text transform="translate(254.1 491.4) scale(1 1.04)" text-anchor="middle">184</text>
<text transform="translate(345.3 491.4) scale(1 1.04)" text-anchor="middle">186</text>
<text transform="translate(436.5 491.4) scale(1 1.04)" text-anchor="middle">188</text>
<text transform="translate(513.6 491.4) scale(1 1.04)" text-anchor="middle">190</text>
<text transform="translate(203 515.3) scale(1 1.04)">Day of Year 2006</text>
<text transform="translate(81.8 312.6) scale(1 1.04)" font-weight="bold">b</text>
<text transform="translate(108.8 311.6) scale(1 1.04)">Central Triangle</text>
</g>
<g>
<clipPath id="cp2"><rect x="72" y="547" width="456" height="182"/></clipPath>
<g clip-path="url(#cp2)">
<rect x="90.7" y="547" width="15.3" height="182" fill="#fcf7c3"/>
<rect x="136.4" y="547" width="15.2" height="182" fill="#fcf7c3"/>
<rect x="182" y="547" width="15.2" height="182" fill="#fcf7c3"/>
<rect x="227.8" y="547" width="15.2" height="182" fill="#fcf7c3"/>
<rect x="273.2" y="547" width="15.4" height="182" fill="#fcf7c3"/>
<rect x="319" y="547" width="15.2" height="182" fill="#fcf7c3"/>
<rect x="364.6" y="547" width="15.4" height="182" fill="#fcf7c3"/>
<rect x="410.4" y="547" width="15.2" height="182" fill="#fcf7c3"/>
<rect x="456" y="547" width="15.2" height="182" fill="#fcf7c3"/>
<rect x="501.6" y="547" width="15.4" height="182" fill="#fcf7c3"/>
<rect x="64" y="547" width="10.7" height="182" fill="#dbe2fc"/>
<rect x="109.6" y="547" width="11.2" height="182" fill="#dbe2fc"/>
<rect x="155.4" y="547" width="11.2" height="182" fill="#dbe2fc"/>
<rect x="201" y="547" width="11.4" height="182" fill="#dbe2fc"/>
<rect x="246.8" y="547" width="11.2" height="182" fill="#dbe2fc"/>
<rect x="292.4" y="547" width="11.2" height="182" fill="#dbe2fc"/>
<rect x="338" y="547" width="11.4" height="182" fill="#dbe2fc"/>
<rect x="383.8" y="547" width="11.2" height="182" fill="#dbe2fc"/>
<rect x="429.6" y="547" width="11.4" height="182" fill="#dbe2fc"/>
<rect x="475.2" y="547" width="11.2" height="182" fill="#dbe2fc"/>
<rect x="520.8" y="547" width="11.2" height="182" fill="#dbe2fc"/>
<line x1="72" x2="528" y1="727.4" y2="727.4" stroke="#c4c4c4" stroke-width="0.8" stroke-dasharray="3.2 2"/>
</g>
<path d="M100.48 727.5H105.12V712.9H100.48ZM117.48 727.5H122.12V723.9H117.48ZM123.48 727.5H128.12V725.8H123.48ZM134.88 727.5H139.52V725.8H134.88ZM140.48 727.5H145.12V723.9H140.48ZM146.28 727.5H150.92V700.3H146.28ZM151.88 727.5H156.52V723.9H151.88ZM186.28 727.5H190.92V718.7H186.28ZM191.88 727.5H196.52V714.7H191.88ZM197.88 727.5H202.12V725.8H197.88ZM202.88 727.5H208.12V725.8H202.88ZM214.88 727.5H219.12V725.8H214.88ZM232.08 727.5H236.32V716.7H232.08ZM237.68 727.5H241.92V722.3H237.68ZM243.28 727.5H248.12V725.8H243.28ZM248.88 727.5H259.12V725.8H248.88ZM271.88 727.5H276.12V725.8H271.88ZM277.48 727.5H281.72V716.7H277.48ZM283.08 727.5H287.52V718.5H283.08ZM288.88 727.5H293.12V722.3H288.88ZM294.28 727.5H300.12V725.8H294.28ZM306.48 727.5H310.72V725.8H306.48ZM323.28 727.5H327.72V713.3H323.28ZM329.08 727.5H333.32V724.3H329.08ZM334.68 727.5H339.12V724.3H334.68ZM340.48 727.5H344.72V720.7H340.48ZM346.08 727.5H350.52V720.7H346.08ZM351.88 727.5H356.12V722.3H351.88ZM357.48 727.5H361.72V716.7H357.48ZM363.08 727.5H367.52V722.3H363.08ZM368.88 727.5H373.12V725.8H368.88ZM374.48 727.5H379.12V725.8H374.48ZM380.28 727.5H385.12V725.8H380.28ZM385.88 727.5H390.52V724.3H385.88ZM391.48 727.5H395.72V724.3H391.48ZM397.08 727.5H401.72V724.3H397.08ZM402.88 727.5H407.72V724.3H402.88ZM408.88 727.5H413.72V725.8H408.88ZM419.88 727.5H424.52V724.3H419.88ZM425.48 727.5H430.12V724.3H425.48ZM430.88 727.5H441.12V725.8H430.88ZM441.88 727.5H448.12V724.3H441.88ZM460.28 727.5H465.12V722.3H460.28ZM465.88 727.5H470.52V712.9H465.88ZM471.48 727.5H476.12V716.7H471.48ZM477.28 727.5H482.12V725.8H477.28ZM482.88 727.5H487.52V724.3H482.88ZM494.48 727.5H499.12V725.8H494.48ZM500.28 727.5H505.12V725.8H500.28ZM505.88 727.5H510.52V724.3H505.88ZM511.68 727.5H516.32V724.3H511.68ZM522.88 727.5H527.12V725.8H522.88Z" fill="#151515"/>
<g clip-path="url(#cp2)">
<path d="M74.4 666V678M73.1 666H75.7M73.1 678H75.7M76.6 660.6V672.6M75.3 660.6H77.9M75.3 672.6H77.9M90 666V680M88.7 666H91.3M88.7 680H91.3M91.89 666.57V680.57M90.59 666.57H93.19M90.59 680.57H93.19M93.78 667.59V681.59M92.48 667.59H95.08M92.48 681.59H95.08M95.67 666.8V680.8M94.37 666.8H96.97M94.37 680.8H96.97M97.56 661.51V675.51M96.26 661.51H98.86M96.26 675.51H98.86M99.45 655.68V669.68M98.15 655.68H100.75M98.15 669.68H100.75M101.35 645.07V659.07M100.05 645.07H102.65M100.05 659.07H102.65M103.24 638.95V652.95M101.94 638.95H104.54M101.94 652.95H104.54M105.13 638.84V652.84M103.83 638.84H106.43M103.83 652.84H106.43M107.02 642.46V656.46M105.72 642.46H108.32M105.72 656.46H108.32M108.91 648.16V662.16M107.61 648.16H110.21M107.61 662.16H110.21M110.8 651V665M109.5 651H112.1M109.5 665H112.1M112.69 655.16V669.16M111.39 655.16H113.99M111.39 669.16H113.99M114.58 659.95V673.95M113.28 659.95H115.88M113.28 673.95H115.88M116.47 661.31V675.31M115.17 661.31H117.77M115.17 675.31H117.77M118.36 661.99V675.99M117.06 661.99H119.66M117.06 675.99H119.66M120.25 660.31V674.31M118.95 660.31H121.55M118.95 674.31H121.55M122.15 657.09V671.09M120.85 657.09H123.45M120.85 671.09H123.45M124.04 652.33V666.33M122.74 652.33H125.34M122.74 666.33H125.34M125.93 648.55V662.55M124.63 648.55H127.23M124.63 662.55H127.23M127.82 642.22V656.22M126.52 642.22H129.12M126.52 656.22H129.12M129.71 632.11V646.11M128.41 632.11H131.01M128.41 646.11H131.01M131.6 625V639M130.3 625H132.9M130.3 639H132.9M284.4 628.6V640.6M283.1 628.6H285.7M283.1 640.6H285.7M286.28 626.97V638.97M284.98 626.97H287.58M284.98 638.97H287.58M288.16 631.7V643.7M286.86 631.7H289.46M286.86 643.7H289.46M290.04 645.6V657.6M288.74 645.6H291.34M288.74 657.6H291.34M291.92 657.5V669.5M290.62 657.5H293.22M290.62 669.5H293.22M293.8 666.02V678.02M292.5 666.02H295.1M292.5 678.02H295.1M295.68 670.58V682.58M294.38 670.58H296.98M294.38 682.58H296.98M297.56 667.57V679.57M296.26 667.57H298.86M296.26 679.57H298.86M299.44 662.39V674.39M298.14 662.39H300.74M298.14 674.39H300.74M301.32 652.46V664.46M300.02 652.46H302.62M300.02 664.46H302.62M303.2 644V656M301.9 644H304.5M301.9 656H304.5M318.4 645.4V657.4M317.1 645.4H319.7M317.1 657.4H319.7M320.31 639.3V651.3M319.01 639.3H321.61M319.01 651.3H321.61M322.21 633.96V645.96M320.91 633.96H323.51M320.91 645.96H323.51M324.12 627.66V639.66M322.82 627.66H325.42M322.82 639.66H325.42M326.03 621.19V633.19M324.73 621.19H327.33M324.73 633.19H327.33M327.93 622.53V634.53M326.63 622.53H329.23M326.63 634.53H329.23M329.84 631.07V643.07M328.54 631.07H331.14M328.54 643.07H331.14M331.75 635.32V647.32M330.45 635.32H333.05M330.45 647.32H333.05M333.65 652.17V664.17M332.35 652.17H334.95M332.35 664.17H334.95M335.56 658.27V670.27M334.26 658.27H336.86M334.26 670.27H336.86M337.47 661.15V673.15M336.17 661.15H338.77M336.17 673.15H338.77M339.37 654.1V666.1M338.07 654.1H340.67M338.07 666.1H340.67M341.28 646.1V658.1M339.98 646.1H342.58M339.98 658.1H342.58M343.19 648.64V660.64M341.89 648.64H344.49M341.89 660.64H344.49M345.09 654.27V666.27M343.79 654.27H346.39M343.79 666.27H346.39M347 670V682M345.7 670H348.3M345.7 682H348.3M373.4 657.4V671.4M372.1 657.4H374.7M372.1 671.4H374.7M379 657.4V671.4M377.7 657.4H380.3M377.7 671.4H380.3M384.6 661V675M383.3 661H385.9M383.3 675H385.9M390.4 665.6V679.6M389.1 665.6H391.7M389.1 679.6H391.7M396 665.6V679.6M394.7 665.6H397.3M394.7 679.6H397.3M401.8 660.6V674.6M400.5 660.6H403.1M400.5 674.6H403.1M407.6 659.2V673.2M406.3 659.2H408.9M406.3 673.2H408.9M413.2 657.6V671.6M411.9 657.6H414.5M411.9 671.6H414.5M419 658.4V672.4M417.7 658.4H420.3M417.7 672.4H420.3M424.6 661V675M423.3 661H425.9M423.3 675H425.9M430.4 658V672M429.1 658H431.7M429.1 672H431.7M436 648V662M434.7 648H437.3M434.7 662H437.3M441.8 635V649M440.5 635H443.1M440.5 649H443.1M447.4 625.4V639.4M446.1 625.4H448.7M446.1 639.4H448.7M453.2 630.4V644.4M451.9 630.4H454.5M451.9 644.4H454.5M510.4 631.6V645.6M509.1 631.6H511.7M509.1 645.6H511.7M516 641.6V655.6M514.7 641.6H517.3M514.7 655.6H517.3M521.6 655.4V669.4M520.3 655.4H522.9M520.3 669.4H522.9M527 654V668M525.7 654H528.3M525.7 668H528.3" fill="none" stroke="#66788a" stroke-width="0.8"/>
<path d="M74.4 672 L76.6 666.6M90 673 L91.89 673.57 L93.78 674.59 L95.67 673.8 L97.56 668.51 L99.45 662.68 L101.35 652.07 L103.24 645.95 L105.13 645.84 L107.02 649.46 L108.91 655.16 L110.8 658 L112.69 662.16 L114.58 666.95 L116.47 668.31 L118.36 668.99 L120.25 667.31 L122.15 664.09 L124.04 659.33 L125.93 655.55 L127.82 649.22 L129.71 639.11 L131.6 632M284.4 634.6 L286.28 632.97 L288.16 637.7 L290.04 651.6 L291.92 663.5 L293.8 672.02 L295.68 676.58 L297.56 673.57 L299.44 668.39 L301.32 658.46 L303.2 650M318.4 651.4 L320.31 645.3 L322.21 639.96 L324.12 633.66 L326.03 627.19 L327.93 628.53 L329.84 637.07 L331.75 641.32 L333.65 658.17 L335.56 664.27 L337.47 667.15 L339.37 660.1 L341.28 652.1 L343.19 654.64 L345.09 660.27 L347 676M373.4 664.4 L379 664.4 L384.6 668 L390.4 672.6 L396 672.6 L401.8 667.6 L407.6 666.2 L413.2 664.6 L419 665.4 L424.6 668 L430.4 665 L436 655 L441.8 642 L447.4 632.4 L453.2 637.4M510.4 638.6 L516 648.6 L521.6 662.4 L527 661" fill="none" stroke="#4a5a70" stroke-width="0.7"/>
<g fill="#f5101c"><circle cx="74.4" cy="672" r="1.7"/><circle cx="76.6" cy="666.6" r="1.7"/><circle cx="90" cy="673" r="1.7"/><circle cx="91.89" cy="673.57" r="1.7"/><circle cx="93.78" cy="674.59" r="1.7"/><circle cx="95.67" cy="673.8" r="1.7"/><circle cx="97.56" cy="668.51" r="1.7"/><circle cx="99.45" cy="662.68" r="1.7"/><circle cx="101.35" cy="652.07" r="1.7"/><circle cx="103.24" cy="645.95" r="1.7"/><circle cx="105.13" cy="645.84" r="1.7"/><circle cx="107.02" cy="649.46" r="1.7"/><circle cx="108.91" cy="655.16" r="1.7"/><circle cx="110.8" cy="658" r="1.7"/><circle cx="112.69" cy="662.16" r="1.7"/><circle cx="114.58" cy="666.95" r="1.7"/><circle cx="116.47" cy="668.31" r="1.7"/><circle cx="118.36" cy="668.99" r="1.7"/><circle cx="120.25" cy="667.31" r="1.7"/><circle cx="122.15" cy="664.09" r="1.7"/><circle cx="124.04" cy="659.33" r="1.7"/><circle cx="125.93" cy="655.55" r="1.7"/><circle cx="127.82" cy="649.22" r="1.7"/><circle cx="129.71" cy="639.11" r="1.7"/><circle cx="131.6" cy="632" r="1.7"/><circle cx="284.4" cy="634.6" r="1.7"/><circle cx="286.28" cy="632.97" r="1.7"/><circle cx="288.16" cy="637.7" r="1.7"/><circle cx="290.04" cy="651.6" r="1.7"/><circle cx="291.92" cy="663.5" r="1.7"/><circle cx="293.8" cy="672.02" r="1.7"/><circle cx="295.68" cy="676.58" r="1.7"/><circle cx="297.56" cy="673.57" r="1.7"/><circle cx="299.44" cy="668.39" r="1.7"/><circle cx="301.32" cy="658.46" r="1.7"/><circle cx="303.2" cy="650" r="1.7"/><circle cx="318.4" cy="651.4" r="1.7"/><circle cx="320.31" cy="645.3" r="1.7"/><circle cx="322.21" cy="639.96" r="1.7"/><circle cx="324.12" cy="633.66" r="1.7"/><circle cx="326.03" cy="627.19" r="1.7"/><circle cx="327.93" cy="628.53" r="1.7"/><circle cx="329.84" cy="637.07" r="1.7"/><circle cx="331.75" cy="641.32" r="1.7"/><circle cx="333.65" cy="658.17" r="1.7"/><circle cx="335.56" cy="664.27" r="1.7"/><circle cx="337.47" cy="667.15" r="1.7"/><circle cx="339.37" cy="660.1" r="1.7"/><circle cx="341.28" cy="652.1" r="1.7"/><circle cx="343.19" cy="654.64" r="1.7"/><circle cx="345.09" cy="660.27" r="1.7"/><circle cx="347" cy="676" r="1.7"/><circle cx="373.4" cy="664.4" r="1.7"/><circle cx="379" cy="664.4" r="1.7"/><circle cx="384.6" cy="668" r="1.7"/><circle cx="390.4" cy="672.6" r="1.7"/><circle cx="396" cy="672.6" r="1.7"/><circle cx="401.8" cy="667.6" r="1.7"/><circle cx="407.6" cy="666.2" r="1.7"/><circle cx="413.2" cy="664.6" r="1.7"/><circle cx="419" cy="665.4" r="1.7"/><circle cx="424.6" cy="668" r="1.7"/><circle cx="430.4" cy="665" r="1.7"/><circle cx="436" cy="655" r="1.7"/><circle cx="441.8" cy="642" r="1.7"/><circle cx="447.4" cy="632.4" r="1.7"/><circle cx="453.2" cy="637.4" r="1.7"/><circle cx="510.4" cy="638.6" r="1.7"/><circle cx="516" cy="648.6" r="1.7"/><circle cx="521.6" cy="662.4" r="1.7"/><circle cx="527" cy="661" r="1.7"/></g>
</g>
<path d="M73.6 595 L77 592 L81 589.4 L85 587.4 L89 584 L92 580.4 L94.4 579.3 L97 581.8 L100 588 L104 593 L108 596.6 L112.4 599 L117 597 L121 590 L125 587.4 L128 585 L131.4 580.6M284.4 597.4 L287.6 599 L291 597.4 L293.6 594.6 L295.6 590 L298 591.6 L301 591 L304 593 L308 593.4 L312 594.6 L316 597 L320 597.4 L324 596 L328 593 L331 588 L333.6 578 L336 565 L338.4 556 L341 552.6 L343.6 552.6 L345.6 559 L347.6 575 L349 589 L350 600 L352 598.6 L355 595.6 L360 593.4 L366 591 L372 589 L380 589.4 L388 591 L392 592.6 L396 594 L402 592 L410 591.4 L418 591 L424 589 L427 585 L431 581.4 L436 579.4 L444 580.6 L453 581.6M510.4 588.4 L515 588.4 L518 590 L521 593.6 L523 594.4" fill="none" stroke="#000" stroke-width="2.6" stroke-linejoin="round" stroke-linecap="butt"/>
<rect x="71.55" y="547" width="456.45" height="184.5" fill="none" stroke="#000" stroke-width="2.4"/>
<path d="M117.3 548.1v4.7M117.3 730.4v-4.4M162.9 548.1v4.7M162.9 730.4v-4.4M208.5 548.1v4.7M208.5 730.4v-4.4M254.1 548.1v4.7M254.1 730.4v-4.4M299.7 548.1v4.7M299.7 730.4v-4.4M345.3 548.1v4.7M345.3 730.4v-4.4M390.9 548.1v4.7M390.9 730.4v-4.4M436.5 548.1v4.7M436.5 730.4v-4.4M482.1 548.1v4.7M482.1 730.4v-4.4" stroke="#000" stroke-width="1.6" fill="none"/>
<path d="M72.6 571.05h4.4M72.6 601.42h4.4M72.6 631.79h4.4M72.6 662.16h4.4M72.6 692.53h4.4M527 574.3h-4.4M527 601.6h-4.4M527 628.8h-4.4M527 656h-4.4M527 696.3h-4.4M527 727.5h-4.4" stroke="#000" stroke-width="2.05" fill="none"/>
<text transform="translate(68.2 575.9) scale(1 1.04)" text-anchor="end">800</text>
<text transform="translate(68.2 606.27) scale(1 1.04)" text-anchor="end">600</text>
<text transform="translate(68.2 636.64) scale(1 1.04)" text-anchor="end">400</text>
<text transform="translate(68.2 667.01) scale(1 1.04)" text-anchor="end">200</text>
<text transform="translate(68.2 697.38) scale(1 1.04)" text-anchor="end">0</text>
<text transform="translate(532.3 554.9) scale(1 1.04)">180</text>
<text transform="translate(532.3 581.8) scale(1 1.04)">135</text>
<text transform="translate(532.3 610) scale(1 1.04)">90</text>
<text transform="translate(532.3 637.4) scale(1 1.04)">45</text>
<text transform="translate(532.3 662.4) scale(1 1.04)">0</text>
<text transform="translate(532.3 701.8) scale(1 1.04)">50</text>
<text transform="translate(532.3 731.2) scale(1 1.04)">0</text>
<text transform="translate(83.4 754.4) scale(1 1.04)" text-anchor="middle">180</text>
<text transform="translate(162.9 754.4) scale(1 1.04)" text-anchor="middle">182</text>
<text transform="translate(254.1 754.4) scale(1 1.04)" text-anchor="middle">184</text>
<text transform="translate(345.3 754.4) scale(1 1.04)" text-anchor="middle">186</text>
<text transform="translate(436.5 754.4) scale(1 1.04)" text-anchor="middle">188</text>
<text transform="translate(513.6 754.4) scale(1 1.04)" text-anchor="middle">190</text>
<text transform="translate(203 778.3) scale(1 1.04)">Day of Year 2006</text>
<text transform="translate(81.6 573.4) scale(1 1.04)" font-weight="bold">c</text>
<text transform="translate(107.9 574.8) scale(1 1.04)" font-size="24.95">Southern Triangle</text>
</g>
<text transform="translate(20.2 511.5) rotate(-90) scale(1 0.96)" font-size="25.15">differential microstrain/day</text>
<text transform="translate(593.1 716.6) rotate(-90) scale(1 0.975)" font-size="25.2">icequakes/hour</text>
<text transform="translate(593.1 503.4) rotate(-90) scale(1 0.975)" font-size="24.9">and</text>
<text transform="translate(593.1 429.9) rotate(-90) scale(1 0.975)" font-size="25.06" word-spacing="0.3">principal extension azimuth (ºEofN)</text>
</svg>
</body></html>
